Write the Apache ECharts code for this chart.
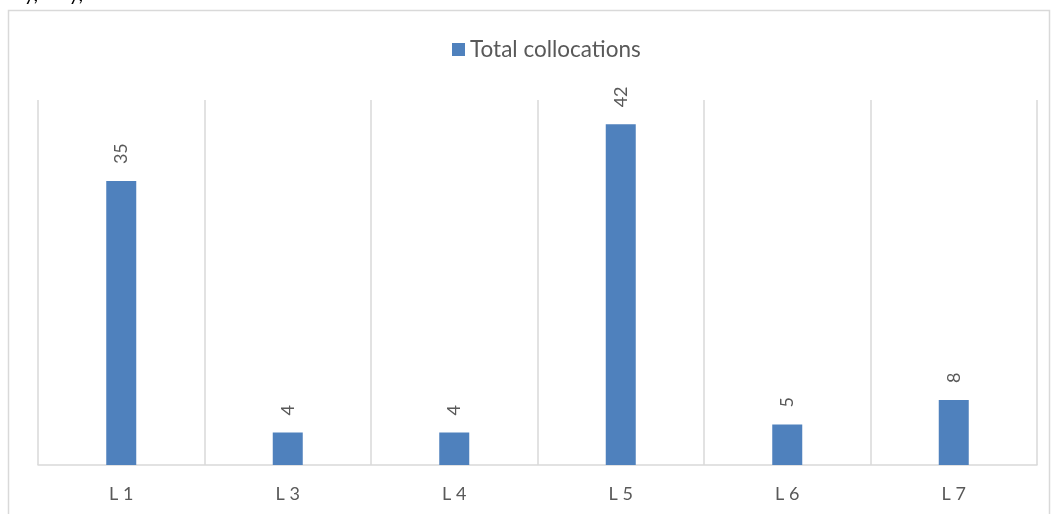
<!DOCTYPE html>
<html style="height: 100%">
<head>
    <meta charset="utf-8">
</head>
<body style="height: 100%; margin: 0; background: #fff">
<div id="chart_container" style="height: 514px; width: 1054px"></div>
<script src="https://cdn.jsdelivr.net/npm/echarts@6/dist/echarts.min.js"></script>
<script type="text/javascript">

    var levels = ['L 1', 'L 3', 'L 4', 'L 5', 'L 6', 'L 7'];
    var totalCollocations = [35, 4, 4, 42, 5, 8];
    var seriesName = 'Total collocations';

    var chart = echarts.init(document.getElementById('chart_container'));

    var option = {
        animation: false,
        textStyle: {fontFamily: 'Lato'},
        graphic: [
            {
                type: 'rect',
                shape: {x: 8.5, y: 10.5, width: 1041, height: 520},
                style: {fill: 'none', stroke: '#d9d9d9', lineWidth: 1.5}
            },
            {
                type: 'text',
                left: 24,
                top: -15,
                style: {text: 'y,      y,', fill: '#000', font: '20px Lato'}
            }
        ],
        legend: {
            data: [seriesName],
            top: 33,
            left: 447,
            icon: 'rect',
            itemWidth: 13,
            itemHeight: 13,
            itemGap: 6,
            textStyle: {fontSize: 22.5, color: '#595959', fontFamily: 'Lato'}
        },
        grid: {
            left: 38,
            right: 17,
            top: 100,
            bottom: 49
        },
        xAxis: {
            type: 'category',
            data: levels,
            axisLine: {lineStyle: {color: '#d9d9d9', width: 1.5}},
            axisTick: {show: false},
            axisLabel: {color: '#595959', fontSize: 18, margin: 20},
            splitLine: {show: true, lineStyle: {color: '#d9d9d9', width: 1.5}}
        },
        yAxis: {
            type: 'value',
            min: 0,
            max: 45,
            show: false,
            splitLine: {show: false}
        },
        series: [
            {
                name: seriesName,
                type: 'bar',
                barWidth: 30,
                data: totalCollocations,
                itemStyle: {color: '#4f81bd'},
                label: {
                    show: true,
                    position: 'top',
                    rotate: 90,
                    align: 'left',
                    verticalAlign: 'middle',
                    distance: 17,
                    color: '#595959',
                    fontSize: 18
                }
            }
        ]
    };

    chart.setOption(option);
</script>
</body>
</html>
